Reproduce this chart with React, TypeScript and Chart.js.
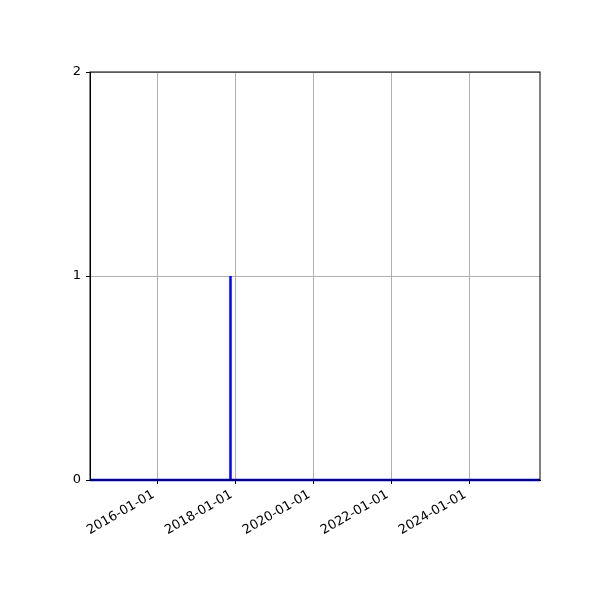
import { useEffect, useRef } from "react";
import Chart from "chart.js/auto";

// dates of the series (ISO)
const dates = ["2014-04-09", "2017-11-14", "2017-11-15", "2017-11-16", "2025-10-25"];
const values = [0, 0, 1, 0, 0];
const xTickLabels = ["2016-01-01", "2018-01-01", "2020-01-01", "2022-01-01", "2024-01-01"];
const yTickValues = [0, 1, 2];

const toMs = (d: string) => Date.parse(d + "T00:00:00Z");
const fmt = (ms: number) => new Date(ms).toISOString().slice(0, 10);

const frame = {
  id: "frame",
  afterDatasetsDraw(chart: any) {
    const { ctx, chartArea: a } = chart;
    ctx.save();
    ctx.strokeStyle = "#000";
    ctx.lineWidth = 1;
    ctx.strokeRect(a.left, a.top, a.right - a.left, a.bottom - a.top);
    ctx.restore();
  },
};

export default function App() {
  const chartRef = useRef<HTMLCanvasElement>(null);

  useEffect(() => {
    document.body.style.margin = "0";
    if (!chartRef.current) return;
    const font = { family: "DejaVu Sans", size: 13 };
    const chart = new Chart(chartRef.current, {
      type: "line",
      data: {
        datasets: [
          {
            data: dates.map((d, i) => ({ x: toMs(d), y: values[i] })),
            borderColor: "#0000ff",
            borderWidth: 2.5,
            pointRadius: 0,
            tension: 0,
            clip: false,
          },
        ],
      },
      plugins: [frame],
      options: {
        animation: false,
        responsive: false,
        layout: { padding: { top: 72, right: 60, left: 0, bottom: 0 } },
        plugins: { legend: { display: false }, tooltip: { enabled: false } },
        scales: {
          x: {
            type: "linear",
            min: toMs(dates[0]),
            max: toMs(dates[dates.length - 1]),
            afterBuildTicks: (s: any) => {
              s.ticks = xTickLabels.map((l) => ({ value: toMs(l) }));
            },
            afterFit: (s: any) => {
              s.height = 120;
            },
            ticks: {
              callback: (v: any) => fmt(Number(v)),
              minRotation: 30,
              maxRotation: 30,
              color: "#000",
              font,
              padding: 3,
              labelOffset: -4,
            },
            grid: { color: "#b0b0b0", lineWidth: 1, tickColor: "#000", tickLength: 4 },
            border: { color: "#000", width: 1 },
          },
          y: {
            min: 0,
            max: 2,
            afterBuildTicks: (s: any) => {
              s.ticks = yTickValues.map((v) => ({ value: v }));
            },
            afterFit: (s: any) => {
              s.width = 90;
            },
            ticks: { color: "#000", font, padding: 5 },
            grid: { color: "#b0b0b0", lineWidth: 1, tickColor: "#000", tickLength: 4 },
            border: { color: "#000", width: 1 },
          },
        },
      },
    });
    return () => chart.destroy();
  }, []);

  return (
    <div style={{ width: 600, height: 600, background: "#fff" }}>
      <canvas ref={chartRef} width={600} height={600} />
    </div>
  );
}
